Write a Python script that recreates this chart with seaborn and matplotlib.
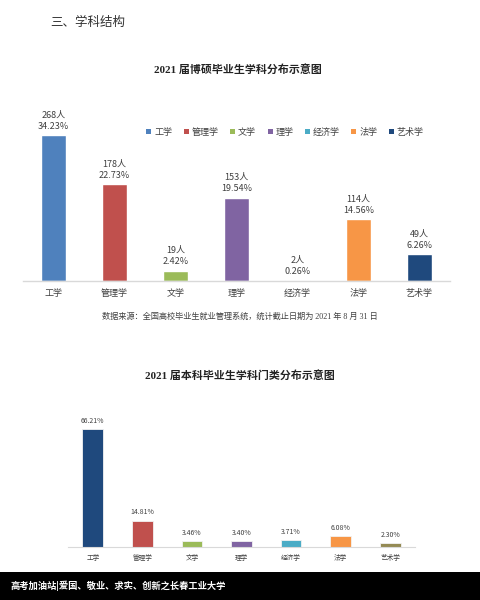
import matplotlib
matplotlib.use('Agg')
import matplotlib.pyplot as plt
import seaborn as sns
import pandas as pd
from matplotlib.patches import Patch, Rectangle

categories = ['工学', '管理学', '文学', '理学', '经济学', '法学', '艺术学']
grad_counts = [268, 178, 19, 153, 2, 114, 49]
grad_pcts = ['34.23%', '22.73%', '2.42%', '19.54%', '0.26%', '14.56%', '6.26%']
ug_pcts = [66.21, 14.81, 3.46, 3.40, 3.71, 6.08, 2.30]
top_colors = ['#4F81BD', '#C0504D', '#9BBB59', '#8064A2', '#4BACC6', '#F79646', '#1F497D']
bottom_colors = ['#1F497D', '#C0504D', '#9BBB59', '#8064A2', '#4BACC6', '#F79646', '#948A54']

sns.set_theme(style='white')
plt.rcParams['font.family'] = ['Noto Sans CJK SC', 'DejaVu Sans']
SERIF = ['Liberation Serif', 'Noto Sans CJK SC']

W, H = 480, 600
fig = plt.figure(figsize=(4.8, 6.0), dpi=100)
fig.patch.set_facecolor('white')

def rect(x0, y0, x1, y1):
    return [x0 / W, 1 - y1 / H, (x1 - x0) / W, (y1 - y0) / H]

# header
fig.text(50 / W, 1 - 22 / H, '三、学科结构', fontsize=9, color='#333333', va='center', ha='left')

# ---------- top chart ----------
fig.text(238 / W, 1 - 69 / H, '2021 届博硕毕业生学科分布示意图', fontsize=7.9,
         fontweight='bold', family=SERIF, color='#222222', ha='center', va='center')

df1 = pd.DataFrame({'cat': categories, 'n': grad_counts})
ax1 = fig.add_axes(rect(23, 100, 450, 281))
sns.barplot(data=df1, x='cat', y='n', hue='cat', palette=top_colors, order=categories,
            hue_order=categories, width=0.4, legend=False, ax=ax1, saturation=1)
ax1.set_xlim(-0.5, 6.5)
ax1.set_ylim(0, 268 * 181 / 146)
ax1.set_xlabel('')
ax1.set_ylabel('')
ax1.set_yticks([])
for s in ['top', 'right', 'left']:
    ax1.spines[s].set_visible(False)
ax1.spines['bottom'].set_color('#D9D9D9')
ax1.spines['bottom'].set_linewidth(1)
ax1.tick_params(axis='x', length=0, labelsize=6.5, labelcolor='#404040', pad=6)
for i, (n, p) in enumerate(zip(grad_counts, grad_pcts)):
    ax1.annotate(f'{n}人\n{p}', xy=(i, n), xytext=(0, 3), textcoords='offset points',
                 ha='center', va='bottom', fontsize=6.5, color='#404040', linespacing=1.35)

handles = [Patch(facecolor=c, edgecolor='none') for c in top_colors]
fig.legend(handles, categories, loc='center', bbox_to_anchor=(285 / W, 1 - 132 / H), ncol=7,
           frameon=False, fontsize=6.5, handlelength=0.55, handleheight=0.55,
           handletextpad=0.3, columnspacing=1.3, labelcolor='#404040')

fig.text(240 / W, 1 - 317 / H, '数据来源：全国高校毕业生就业管理系统，统计截止日期为 2021 年 8 月 31 日',
         fontsize=5.9, family=SERIF, color='#404040', ha='center', va='center')

# ---------- bottom chart ----------
fig.text(240 / W, 1 - 375 / H, '2021 届本科毕业生学科门类分布示意图', fontsize=7.9,
         fontweight='bold', family=SERIF, color='#222222', ha='center', va='center')

df2 = pd.DataFrame({'cat': categories, 'p': ug_pcts})
ax2 = fig.add_axes(rect(68, 400, 415, 547))
sns.barplot(data=df2, x='cat', y='p', hue='cat', palette=bottom_colors, order=categories,
            hue_order=categories, width=0.42, legend=False, ax=ax2, saturation=1,
            edgecolor='#F2F2F2', linewidth=0.6)
ax2.set_xlim(-0.5, 6.5)
ax2.set_ylim(0, 66.21 * 147 / 118)
ax2.set_xlabel('')
ax2.set_ylabel('')
ax2.set_yticks([])
for s in ['top', 'right', 'left']:
    ax2.spines[s].set_visible(False)
ax2.spines['bottom'].set_color('#D9D9D9')
ax2.spines['bottom'].set_linewidth(0.8)
ax2.tick_params(axis='x', length=0, labelsize=4.8, labelcolor='#404040', pad=5)
for i, p in enumerate(ug_pcts):
    ax2.annotate(f'{p:.2f}%', xy=(i, p), xytext=(0, 3), textcoords='offset points',
                 ha='center', va='bottom', fontsize=5, color='#404040')

# footer band
fig.patches.append(Rectangle((0, 0), 1, 28 / H, transform=fig.transFigure,
                             facecolor='black', edgecolor='none', zorder=0))
fig.text(10 / W, 1 - 586 / H, '高考加油站|爱国、敬业、求实、创新之长春工业大学', fontsize=6.7,
         fontweight='bold', color='white', ha='left', va='center')

fig.savefig('out.png', dpi=100)
